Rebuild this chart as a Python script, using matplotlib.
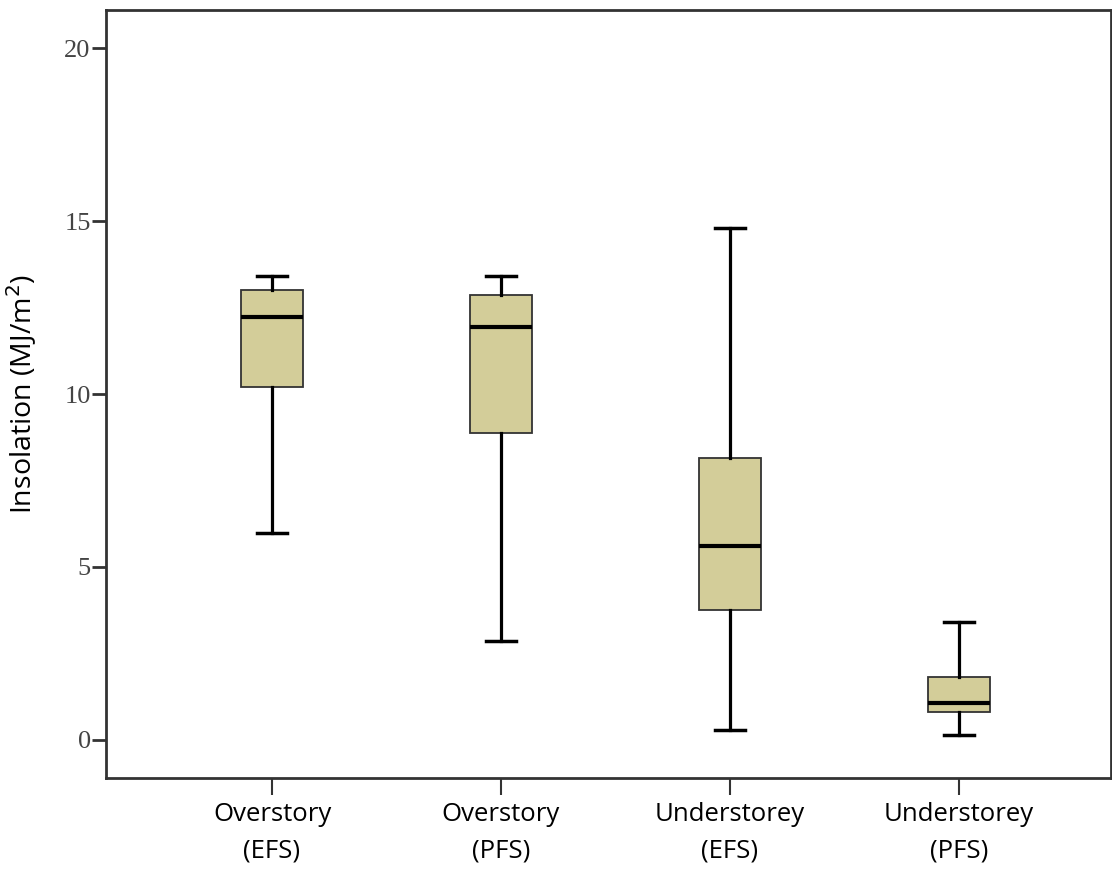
import matplotlib
matplotlib.use("Agg")
import matplotlib.pyplot as plt

categories = ["Overstory\n(EFS)", "Overstory\n(PFS)", "Understorey\n(EFS)", "Understorey\n(PFS)"]
whislo = [5.98, 2.86, 0.29, 0.14]
q1 = [10.2, 8.87, 3.76, 0.81]
med = [12.23, 11.94, 5.6, 1.07]
q3 = [13.0, 12.86, 8.15, 1.82]
whishi = [13.41, 13.41, 14.8, 3.41]
yticks = [0, 5, 10, 15, 20]

stats = [dict(label=c, whislo=a, q1=b, med=m, q3=d, whishi=e)
         for c, a, b, m, d, e in zip(categories, whislo, q1, med, q3, whishi)]

fig = plt.figure(figsize=(11.12, 8.72), dpi=100)
ax = fig.add_axes([106/1112, 94/872, 1005/1112, 768/872])

ax.bxp(stats, positions=[1, 2, 3, 4], widths=0.27, patch_artist=True, showfliers=False,
       boxprops=dict(facecolor="#D3CD99", edgecolor="#333333", linewidth=1.3),
       medianprops=dict(color="black", linewidth=3),
       whiskerprops=dict(color="black", linewidth=2.3),
       capprops=dict(color="black", linewidth=2.5),
       capwidths=0.13)

ax.set_xlim(0.275, 4.664)
ax.set_ylim(-1.1, 21.1)
ax.set_yticks(yticks)
ax.set_yticklabels([str(t) for t in yticks], family="Liberation Serif", fontsize=19, color="#444444")
ax.set_xticks([1, 2, 3, 4])
ax.set_xticklabels(categories, fontsize=18.5, family="Open Sans", linespacing=1.6)
ax.tick_params(axis="y", length=10, width=2, color="#333333", pad=1)
ax.tick_params(axis="x", length=12, width=1.5, color="#333333", pad=5)
for s in ax.spines.values():
    s.set_color("#333333")
    s.set_linewidth(2)
ax.set_ylabel("Insolation (MJ/m$^2$)", fontsize=20.5, family="Open Sans", labelpad=18)

fig.savefig("out.png", dpi=100)
